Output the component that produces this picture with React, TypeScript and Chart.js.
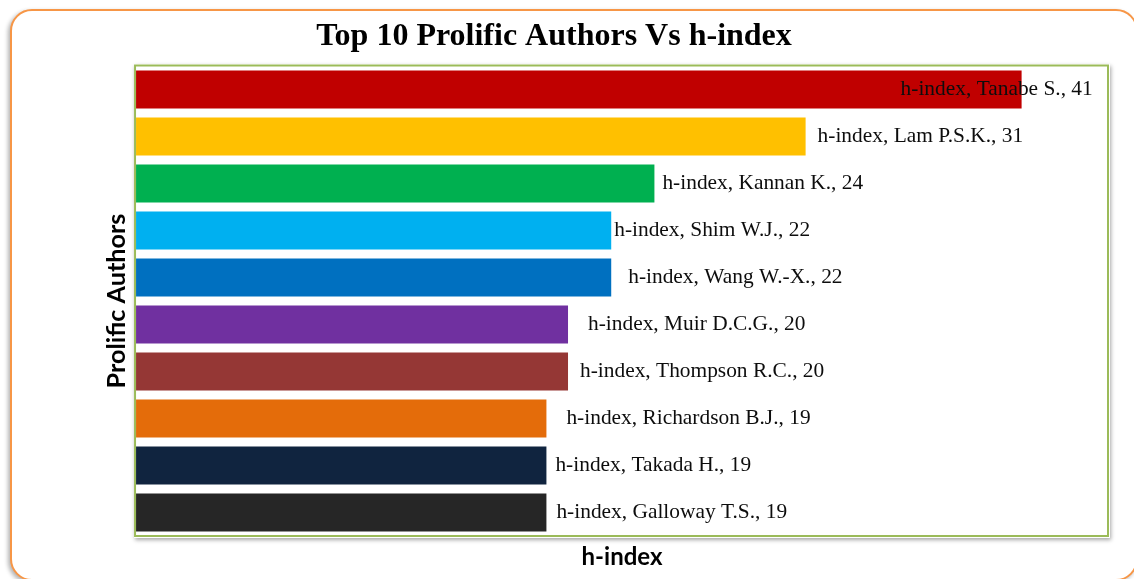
import React, { useEffect, useRef } from "react";
import { Chart, registerables } from "chart.js";

Chart.register(...registerables);

const authors = [
  "Tanabe S.",
  "Lam P.S.K.",
  "Kannan K.",
  "Shim W.J.",
  "Wang W.-X.",
  "Muir D.C.G.",
  "Thompson R.C.",
  "Richardson B.J.",
  "Takada H.",
  "Galloway T.S.",
];
const hIndex = [41, 31, 24, 22, 22, 20, 20, 19, 19, 19];
const barColors = [
  "#C00000",
  "#FFC000",
  "#00B050",
  "#00B0F0",
  "#0070C0",
  "#7030A0",
  "#953735",
  "#E46C0A",
  "#10243F",
  "#262626",
];
const seriesName = "h-index";
const chartTitle = "Top 10 Prolific Authors Vs h-index";
const xTitle = "h-index";
const yTitle = "Prolific Authors";
// label nudges (px) relative to bar end, as placed in the original
const labelNudge = [-121, 12, 8, 3, 17, 20, 12, 20, 9, 10];

const plotFramePlugin = {
  id: "plotFrame",
  beforeDatasetsDraw(chart: any) {
    const { ctx, chartArea } = chart;
    const { left, top, right, bottom } = chartArea;
    ctx.save();
    ctx.shadowColor = "rgba(0,0,0,0.35)";
    ctx.shadowBlur = 4;
    ctx.shadowOffsetX = 1;
    ctx.shadowOffsetY = 2;
    ctx.fillStyle = "#FFFFFF";
    ctx.fillRect(left - 2, top - 2, right - left + 4, bottom - top + 4);
    ctx.restore();
  },
  afterDatasetsDraw(chart: any) {
    const { ctx, chartArea } = chart;
    const { left, top, right, bottom } = chartArea;
    ctx.save();
    ctx.strokeStyle = "#9BBB59";
    ctx.lineWidth = 2;
    ctx.strokeRect(left - 1, top - 0.5, right - left + 1, bottom - top + 0.5);
    ctx.restore();
  },
};

const barLabelPlugin = {
  id: "barLabels",
  afterDraw(chart: any) {
    const { ctx } = chart;
    const meta = chart.getDatasetMeta(0);
    ctx.save();
    ctx.font = "21.4px 'Liberation Serif', 'Times New Roman', serif";
    ctx.fillStyle = "#0D0D0D";
    ctx.textAlign = "left";
    ctx.textBaseline = "middle";
    meta.data.forEach((bar: any, i: number) => {
      const text = `${seriesName}, ${authors[i]}, ${hIndex[i]}`;
      ctx.fillText(text, bar.x + labelNudge[i], bar.y);
    });
    ctx.restore();
  },
};

export default function App() {
  const canvasRef = useRef<HTMLCanvasElement | null>(null);

  useEffect(() => {
    if (!canvasRef.current) return;
    const chart = new Chart(canvasRef.current, {
      type: "bar",
      data: {
        labels: authors,
        datasets: [
          {
            label: seriesName,
            data: hIndex,
            backgroundColor: barColors,
            borderWidth: 0,
            barPercentage: 0.81,
            categoryPercentage: 1,
          },
        ],
      },
      options: {
        indexAxis: "y",
        animation: false,
        responsive: false,
        maintainAspectRatio: false,
        layout: { padding: { top: 0, bottom: 0, left: 0, right: 26 } },
        plugins: {
          legend: { display: false },
          tooltip: { enabled: false },
          title: {
            display: true,
            text: chartTitle,
            color: "#000000",
            font: {
              family: "'Liberation Serif', 'Times New Roman', serif",
              size: 32,
              weight: "bold",
            },
            padding: { top: 17.8, bottom: 9.8 },
          },
        },
        scales: {
          x: {
            type: "linear",
            min: 0,
            max: 45,
            ticks: { display: false },
            grid: { display: false, drawTicks: false },
            border: { display: false },
            title: {
              display: true,
              text: xTitle,
              color: "#000000",
              font: { family: "Lato, 'Noto Sans', sans-serif", size: 24, weight: "bold" },
              padding: { top: 6.6, bottom: 7.6 },
            },
          },
          y: {
            type: "category",
            ticks: { display: false },
            grid: { display: false, drawTicks: false },
            border: { display: false },
            title: {
              display: true,
              text: yTitle,
              color: "#000000",
              font: { family: "Lato, 'Noto Sans', sans-serif", size: 25.2, weight: "bold" },
              padding: { top: 102.2, bottom: 3.6 },
            },
          },
        },
      },
      plugins: [plotFramePlugin, barLabelPlugin],
    });
    return () => chart.destroy();
  }, []);

  return (
    <div>
      <div
        style={{
          position: "fixed",
          left: 10,
          top: 9,
          width: 1124,
          height: 568,
          border: "2px solid #F79646",
          borderRadius: 22,
          boxShadow: "-2px 2px 4px rgba(0,0,0,0.3)",
          background: "#FFFFFF",
        }}
      />
      <canvas
        ref={canvasRef}
        width={1134}
        height={579}
        style={{ position: "fixed", left: 0, top: 0, width: 1134, height: 579 }}
      />
    </div>
  );
}
